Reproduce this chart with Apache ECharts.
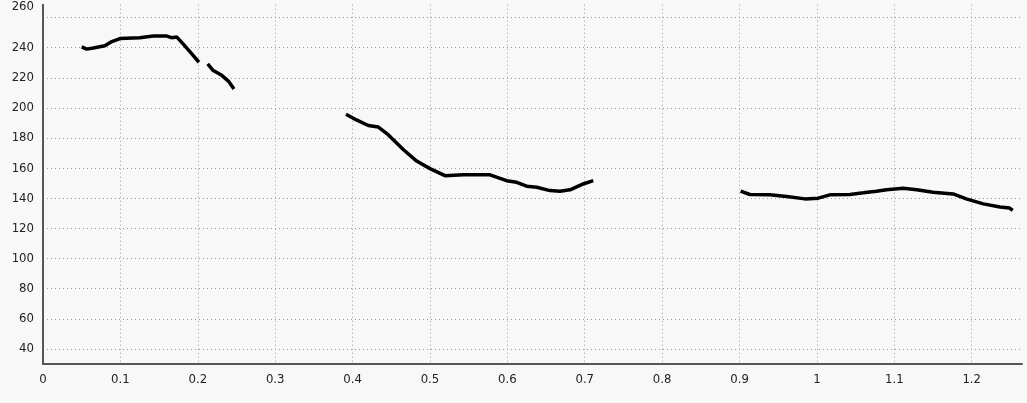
<!DOCTYPE html>
<html>
<head>
<meta charset="utf-8">
<script src="https://cdn.jsdelivr.net/npm/echarts@6/dist/echarts.min.js"></script>
<style>
html,body{margin:0;padding:0;background:#f8f8f8}
#chart{width:1027px;height:403px}
</style>
</head>
<body>
<div id="chart"></div>
<script>
// time (s) and pitch (Hz) for each voiced piece of the contour
var seg1T = [0.050, 0.0565, 0.065, 0.080, 0.089, 0.0995, 0.125, 0.1425, 0.160, 0.166, 0.173, 0.181, 0.192, 0.2015];
var seg1F = [240.5, 239, 239.7, 241.2, 244, 246, 246.6, 247.7, 247.7, 246.6, 247, 242.5, 236, 230.3];
var seg2T = [0.2128, 0.220, 0.231, 0.2395, 0.2468];
var seg2F = [229.2, 224.8, 221.6, 217.8, 212.6];
var seg3T = [0.3915, 0.405, 0.4203, 0.4333, 0.446, 0.4655, 0.4828, 0.500, 0.5194, 0.543, 0.5775, 0.599, 0.612, 0.625, 0.638, 0.655, 0.668, 0.681, 0.698, 0.711];
var seg3F = [195.8, 192, 188.3, 187.3, 182.2, 172.4, 164.7, 159.7, 155, 155.6, 155.6, 151.7, 150.6, 148, 147.3, 145.1, 144.7, 145.6, 149.5, 151.7];
var seg4T = [0.9014, 0.9134, 0.939, 0.961, 0.9845, 1.0017, 1.0168, 1.0426, 1.060, 1.077, 1.090, 1.1115, 1.129, 1.150, 1.176, 1.193, 1.215, 1.2365, 1.249, 1.253];
var seg4F = [144.7, 142.5, 142.3, 141.2, 139.6, 140.1, 142.3, 142.5, 143.6, 144.7, 145.7, 146.6, 145.7, 144, 142.9, 139.6, 136.3, 134.2, 133.5, 132];

var segs = [[seg1T, seg1F], [seg2T, seg2F], [seg3T, seg3F], [seg4T, seg4F]];
var contour = [];
segs.forEach(function (s, k) {
    if (k > 0) contour.push([s[0][0], null]);   // gap between pieces
    for (var i = 0; i < s[0].length; i++) contour.push([s[0][i], s[1][i]]);
});

var labelFont = "'Liberation Sans Narrow', 'DejaVu Sans Condensed', sans-serif";

var myChart = echarts.init(document.getElementById('chart'));
myChart.setOption({
    backgroundColor: '#f8f8f8',
    animation: false,
    grid: {left: 43, right: 5, top: 0, bottom: 39},
    xAxis: {
        type: 'value',
        min: 0,
        max: 1.265,
        interval: 0.1,
        axisLine: {lineStyle: {color: '#555', width: 2}},
        axisTick: {show: false},
        axisLabel: {color: '#222', fontSize: 13, fontFamily: labelFont, margin: 9, showMaxLabel: false},
        splitLine: {show: true, showMinLine: false, showMaxLine: false, lineStyle: {color: '#999', type: [1, 3]}}
    },
    yAxis: {
        type: 'value',
        min: 30,
        max: 268.5,
        splitNumber: 12,
        axisLine: {show: true, lineStyle: {color: '#555', width: 2}},
        axisTick: {show: false},
        axisLabel: {
            color: '#222', fontSize: 13, fontFamily: labelFont, margin: 9,
            showMinLabel: false, showMaxLabel: false,
            formatter: function (v) { return v === 260 ? '{top|260}' : String(v); },
            rich: {top: {padding: [0, 0, 22, 0], color: '#222', fontSize: 13, fontFamily: labelFont}}
        },
        splitLine: {show: true, showMinLine: false, showMaxLine: false, lineStyle: {color: '#999', type: [1, 3]}}
    },
    series: [{
        type: 'line',
        data: contour,
        showSymbol: false,
        connectNulls: false,
        lineStyle: {color: '#000', width: 3.5},
        silent: true
    }]
});
</script>
</body>
</html>
